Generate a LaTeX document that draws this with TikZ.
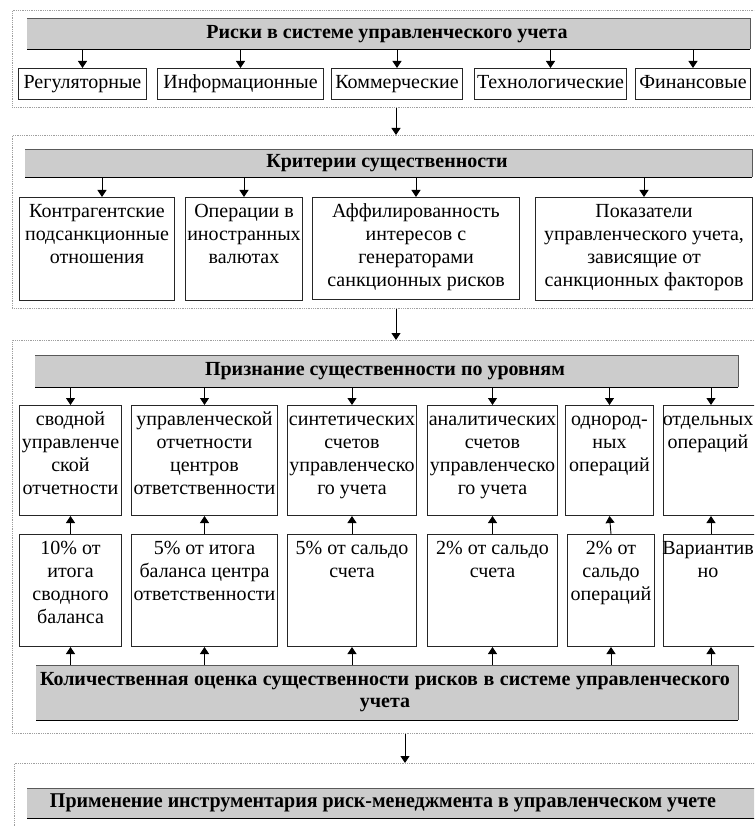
\documentclass[tikz,border=0pt]{standalone}
\usepackage{fontspec}
\setmainfont{Liberation Serif}
\usetikzlibrary{arrows.meta}
\tikzset{
 panel/.style={draw=gray!75, densely dotted, line width=0.8pt, anchor=north west, inner sep=0pt},
 hdr/.style={fill=gray!40, anchor=north west, inner sep=0pt},
 hdrtext/.style={inner sep=0pt, align=center, font=\fontsize{20}{22}\selectfont\bfseries},
 box/.style={draw=black!85, line width=1pt, anchor=north west, inner sep=0pt},
 txt/.style={anchor=north, align=center, inner sep=0pt, font=\fontsize{20}{23}\selectfont},
 ltxt/.style={inner sep=0pt, text height=13.5pt, text depth=4.5pt, font=\fontsize{20}{23}\selectfont},
 arr/.style={-{Triangle[length=7pt,width=9pt]}, line width=0.9pt, black},
}
\newcommand\hdrbox[5]{%
 \node[hdr, minimum width=#4pt, minimum height=#5pt] (#1) at (#2,#3) {};
 \draw[black!65, line width=1pt] (#1.north west) -- (#1.north east) -- (#1.south east);
 \draw[black, line width=1.5pt] (#1.south west) -- (#1.south east);}
\newcommand\bx[7][0]{%
 \node[box, minimum width=#5pt, minimum height=#6pt] (#2) at (#3,#4) {};
 \node[txt] (#2t) at ([yshift=-5pt, xshift=#1pt]#2.north) {\rule{0pt}{15pt}#7};}
\newcommand\bxc[6]{%
 \node[box, minimum width=#4pt, minimum height=#5pt] (#1) at (#2,#3) {};
 \node[ltxt] (#1t) at (#1.center) {#6};}
\begin{document}
\begin{tikzpicture}[x=1pt, y=-1pt]
\clip (0,0) rectangle (754,826);
\fill[white] (0,0) rectangle (754,826);
% panels
\node[panel, minimum width=780pt, minimum height=97pt] (p1) at (12,10) {};
\node[panel, minimum width=780pt, minimum height=173pt] (p2) at (12,135) {};
\node[panel, minimum width=780pt, minimum height=393pt] (p3) at (12,340) {};
\node[panel, minimum width=780pt, minimum height=97pt] (p4) at (14,763) {};
\coordinate (ax) at (396,0);
\coordinate (bx) at (405,0);
\draw[arr] (p1.south -| ax) -- (p2.north -| ax);
\draw[arr] (p2.south -| ax) -- (p3.north -| ax);
\draw[arr] (p3.south -| bx) -- (p4.north -| bx);
% panel 1
\hdrbox{h1}{27}{19}{723}{30}
\node[hdrtext] (h1t) at (387,34) {Риски в системе управленческого учета};
\bxc{r1a}{18}{68}{128}{31}{Регуляторные}
\bxc{r1b}{157}{68}{166}{31}{Информационные}
\bxc{r1c}{331}{68}{131}{31}{Коммерческие}
\bxc{r1d}{474}{68}{152}{31}{Технологические}
\bxc{r1e}{635}{68}{115}{31}{Финансовые}
\foreach \b in {r1a,r1b,r1c,r1d,r1e} \draw[arr] (h1.south -| \b.north) -- (\b.north);
% panel 2
\hdrbox{h2}{25}{150}{727}{27}
\node[hdrtext] (h2t) at (387,163.5) {Критерии существенности};
\bx{r2a}{19}{197}{155}{103}{Контрагентские\\подсанкционные\\отношения}
\bx{r2b}{185}{197}{117}{103}{Операции в\\иностранных\\валютах}
\bx{r2c}{312}{197}{207}{102}{Аффилированность\\интересов с\\генераторами\\санкционных рисков}
\bx{r2d}{535}{197}{217}{103}{Показатели\\управленческого учета,\\зависящие от\\санкционных факторов}
\draw[arr] ([xshift=5pt]h2.south -| r2a.north) -- ([xshift=5pt]r2a.north);
\foreach \b in {r2b,r2c,r2d} \draw[arr] (h2.south -| \b.north) -- (\b.north);
% panel 3
\hdrbox{h3}{35}{355}{703}{32}
\node[hdrtext] (h3t) at (385,371) {Признание существенности по уровням};
\bx{r3a}{19}{405}{102}{110}{сводной\\управленче\\ской\\отчетности}
\bx{r3b}{131}{405}{146}{110}{управленческой\\отчетности\\центров\\ответственности}
\bx{r3c}{287}{405}{129}{110}{синтетических\\счетов\\управленческо\\го учета}
\bx{r3d}{427}{405}{130}{110}{аналитических\\счетов\\управленческо\\го учета}
\bx{r3e}{565}{405}{88}{110}{однород-\\ных\\операций}
\bx[-3]{r3f}{663}{405}{95}{110}{отдельных\\операций}
\bx{r4a}{19}{534}{102}{112}{10\% от\\итога\\сводного\\баланса}
\bx{r4b}{131}{534}{146}{112}{5\% от итога\\баланса центра\\ответственности}
\bx{r4c}{287}{534}{129}{112}{5\% от сальдо\\счета}
\bx{r4d}{427}{534}{130}{112}{2\% от сальдо\\счета}
\bx{r4e}{567}{534}{87}{112}{2\% от\\сальдо\\операций}
\bx[-3]{r4f}{663}{534}{95}{112}{Вариантив\\но}
\hdrbox{h4}{36}{665}{702}{55}
\node[hdrtext] (h4t) at (385,692) {\makebox[690pt][s]{Количественная оценка существенности рисков в системе управленческого}\\учета};
\foreach \b in {r3a,r3b,r3c,r3d,r3e,r3f} \draw[arr] (h3.south -| \b.north) -- (\b.north);
\foreach \a/\b in {r4a/r3a,r4b/r3b,r4c/r3c,r4d/r3d,r4e/r3e,r4f/r3f} \draw[arr] (\a.north) -- (\b.south);
\foreach \b in {r4a,r4b,r4c,r4d,r4e,r4f} \draw[arr] (h4.north -| \b.south) -- (\b.south);
% panel 4
\hdrbox{h5}{27}{788}{780}{30}
\node[inner sep=0pt] (h5t) at (383,803) {\resizebox{666pt}{\height}{\fontsize{21}{23}\selectfont\bfseries Применение инструментария риск-менеджмента в управленческом учете}};
\end{tikzpicture}
\end{document}
